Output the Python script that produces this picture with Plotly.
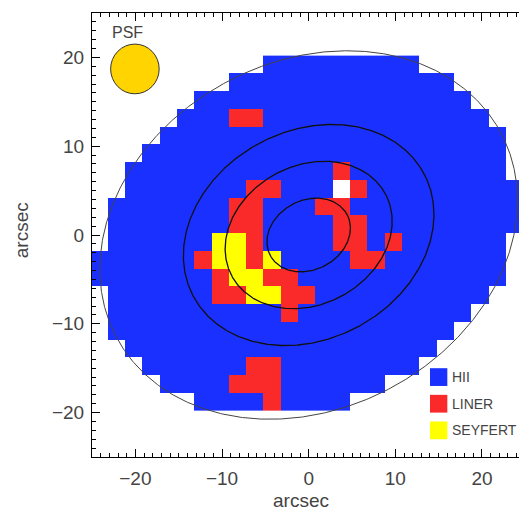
import numpy as np
import plotly.graph_objects as go

# ---------------- data ----------------
# pixel centres of the classification map (arcsec)
x_centers = [-24.2, -22.2, -20.2, -18.2, -16.2, -14.2, -12.2, -10.2, -8.2, -6.2,
             -4.2, -2.2, -0.2, 1.8, 3.8, 5.8, 7.8, 9.8, 11.8, 13.8,
             15.8, 17.8, 19.8, 21.8, 23.8]
y_centers = [19.2, 17.2, 15.2, 13.2, 11.2, 9.2, 7.2, 5.2, 3.2, 1.2,
             -0.8, -2.8, -4.8, -6.8, -8.8, -10.8, -12.8, -14.8, -16.8, -18.8]

# B = HII, R = LINER, Y = SEYFERT, W = unclassified (white), . = no data
class_rows = [
    "..........BBBBBBBBB......",
    "........BBBBBBBBBBBBB....",
    "......BBBBBBBBBBBBBBBB...",
    ".....BBBRRBBBBBBBBBBBBB..",
    "....BBBBBBBBBBBBBBBBBBBB.",
    "...BBBBBBBBBBBBBBBBBBBBB.",
    "..BBBBBBBBBBBBRBBBBBBBBB.",
    "..BBBBBBBRRBBBWRBBBBBBBBB",
    ".BBBBBBBRRBBBRRBBBBBBBBBB",
    ".BBBBBBBRRBBBBRRBBBBBBBBB",
    ".BBBBBBYYRBBBBRRBRBBBBBB.",
    "BBBBBBRYYRYBBBBRRBBBBBBB.",
    "BBBBBBBRYYRRBBBBBBBBBBBB.",
    ".BBBBBBRRYYRRBBBBBBBBBB..",
    ".BBBBBBBBBBRBBBBBBBBBB...",
    ".BBBBBBBBBBBBBBBBBBBB....",
    "..BBBBBBBBBBBBBBBBBB.....",
    "...BBBBBBRRBBBBBBBB......",
    "....BBBBRRRBBBBBB........",
    "......BBBBRBBBB..........",
]

categories = ["HII", "LINER", "SEYFERT"]
category_codes = {"B": 0, "R": 1, "Y": 2, "W": 3}

# isophote ellipses (semi-major axes, arcsec), axis ratio and position angle
ellipse_radii = [5, 10, 15, 25]
axis_ratio = 0.786
pa_deg = 25.5

# PSF disc
psf_center = (-20.05, 18.7)
psf_radius = 2.8

# ---------------- styles ----------------
BLUE = "#1a30ff"
RED = "#fa2a2a"
YELLOW = "#ffff00"
WHITE = "#ffffff"
GOLD = "#ffd400"
TXT = "#444444"
FONT = "Liberation Sans, Arial, sans-serif"

fig = go.Figure()

# classification map
z = [[category_codes.get(ch) for ch in row] for row in class_rows]
z_up = z[::-1]
y_up = y_centers[::-1]
colorscale = [[0.0, BLUE], [0.25, BLUE], [0.25, RED], [0.5, RED],
              [0.5, YELLOW], [0.75, YELLOW], [0.75, WHITE], [1.0, WHITE]]
fig.add_trace(go.Heatmap(x=x_centers, y=y_up, z=z_up, zmin=-0.5, zmax=3.5,
                         colorscale=colorscale, showscale=False,
                         hoverinfo="skip", zsmooth=False))

# ellipses
t = np.linspace(0, 2 * np.pi, 721)
th = np.deg2rad(pa_deg)
for a in ellipse_radii:
    b = a * axis_ratio
    ex = a * np.cos(t) * np.cos(th) - b * np.sin(t) * np.sin(th)
    ey = a * np.cos(t) * np.sin(th) + b * np.sin(t) * np.cos(th)
    outer = a == max(ellipse_radii)
    fig.add_trace(go.Scatter(x=ex, y=ey, mode="lines",
                             line=dict(color="#444444" if outer else "#111111",
                                       width=1.0 if outer else 1.3),
                             hoverinfo="skip", showlegend=False))

shapes = []
# PSF disc
shapes.append(dict(type="circle", xref="x", yref="y",
                   x0=psf_center[0] - psf_radius, x1=psf_center[0] + psf_radius,
                   y0=psf_center[1] - psf_radius, y1=psf_center[1] + psf_radius,
                   fillcolor=GOLD, line=dict(color="#333333", width=1)))

# legend boxes
legend_colors = [BLUE, RED, YELLOW]
legend_y = [-16.0, -19.0, -22.0]
for col, yy in zip(legend_colors, legend_y):
    shapes.append(dict(type="rect", xref="x", yref="y", x0=14.0, x1=16.0,
                       y0=yy - 1.0, y1=yy + 1.0, fillcolor=col,
                       line=dict(width=0)))

annotations = []
for name, yy in zip(categories, legend_y):
    annotations.append(dict(x=16.35, y=yy, xref="x", yref="y", text=name,
                            showarrow=False, xanchor="left", yanchor="middle",
                            font=dict(family=FONT, size=14, color=TXT)))
annotations.append(dict(x=-20.9, y=22.75, xref="x", yref="y", text="PSF",
                        showarrow=False, xanchor="center", yanchor="middle",
                        font=dict(family=FONT, size=16, color=TXT)))
# axis titles
annotations.append(dict(x=0.4895, y=-0.097, xref="paper", yref="paper",
                        text="arcsec", showarrow=False, xanchor="center",
                        yanchor="middle", font=dict(family=FONT, size=19, color=TXT)))
annotations.append(dict(x=-0.166, y=0.511, xref="paper", yref="paper",
                        text="arcsec", showarrow=False, textangle=-90,
                        xanchor="center", yanchor="middle",
                        font=dict(family=FONT, size=19, color=TXT)))

fig.update_layout(width=519, height=513,
                  margin=dict(l=92, r=0, t=13, b=56, pad=0),
                  paper_bgcolor="white", plot_bgcolor="white",
                  showlegend=False, shapes=shapes, annotations=annotations,
                  font=dict(family=FONT, size=20, color=TXT))

axis_common = dict(ticks="inside", ticklen=8, tickwidth=1, tickcolor="black",
                   dtick=10, tick0=0,
                   minor=dict(dtick=1, tick0=0, ticks="inside", ticklen=4,
                              tickwidth=1, tickcolor="black"),
                   showline=True, linecolor="black", linewidth=1,
                   showgrid=False, zeroline=False,
                   tickfont=dict(family=FONT, size=19, color=TXT))
fig.update_xaxes(range=[-25, 24.27], mirror="ticks", ticklabelstandoff=4,
                 **axis_common)
fig.update_yaxes(range=[-25, 25], mirror=False, ticklabelstandoff=3,
                 **axis_common)

fig.write_html("out.html")
